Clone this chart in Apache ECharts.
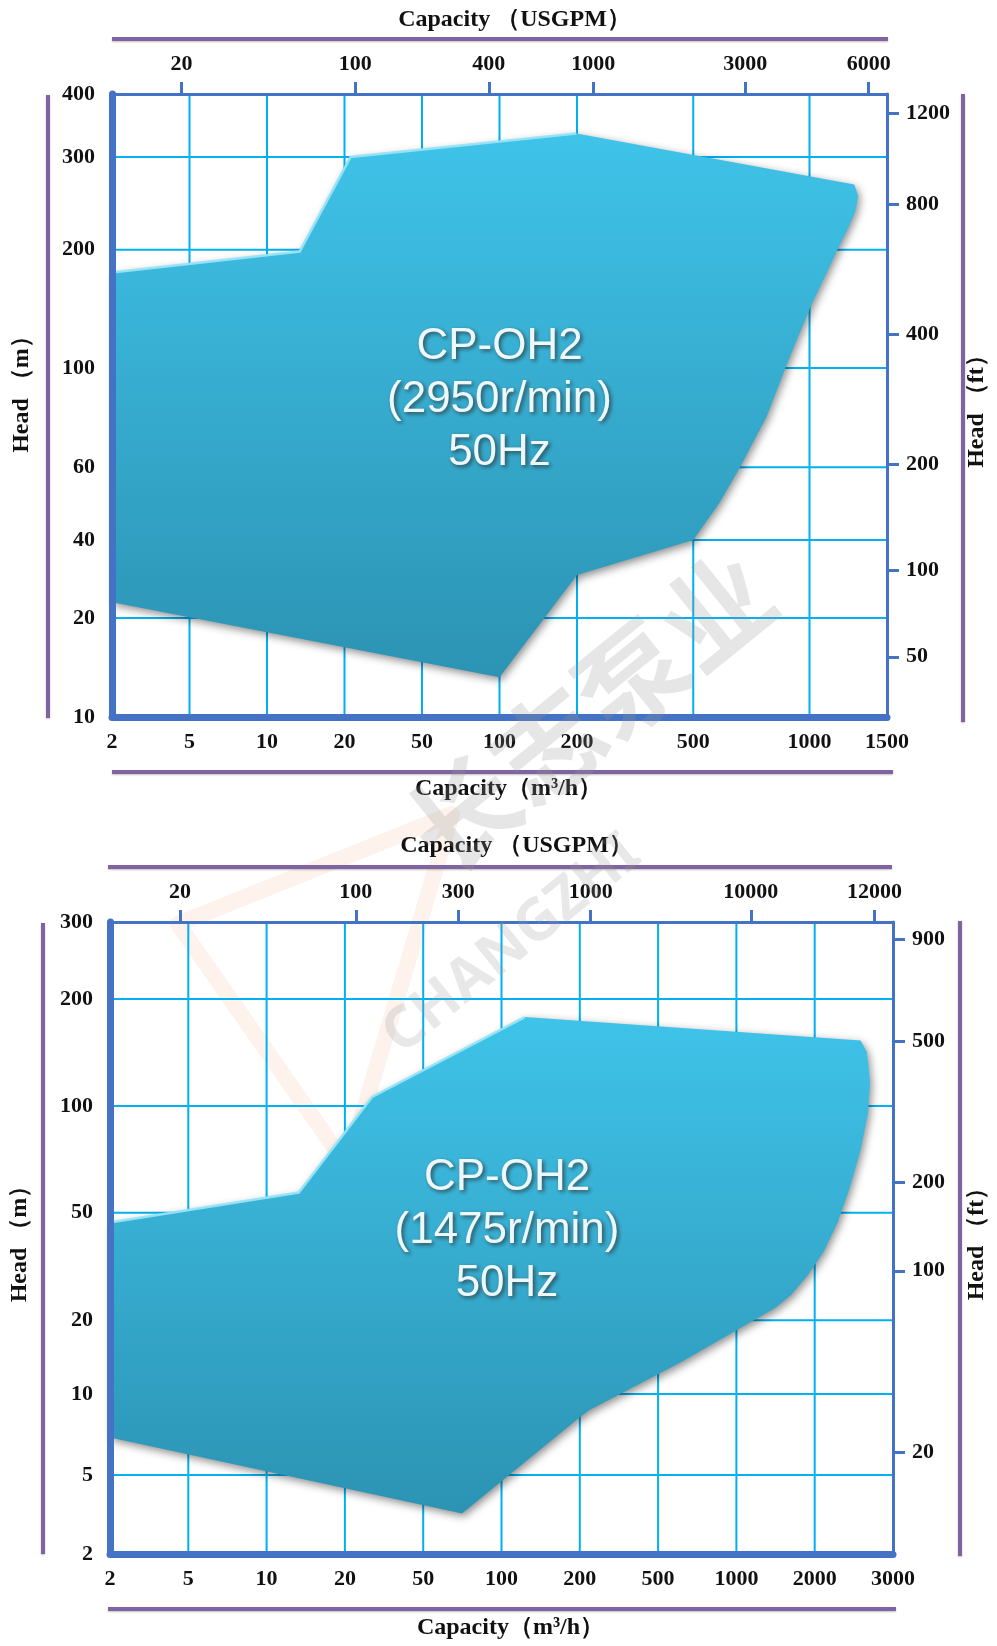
<!DOCTYPE html>
<html>
<head>
<meta charset="utf-8">
<script src="https://cdn.jsdelivr.net/npm/echarts@6/dist/echarts.min.js"></script>
<style>
html,body{margin:0;padding:0;background:#ffffff;}
#c{width:997px;height:1646px;}
</style>
</head>
<body>
<div id="c"></div>
<script>
// ---------------- DATA ----------------
// Chart A : CP-OH2 2950 r/min
const qTicksA = [2, 5, 10, 20, 50, 100, 200, 500, 1000, 1500];          // m3/h
const hTicksA = [10, 20, 40, 60, 100, 200, 300, 400];                    // m
const gpmTicksA = [20, 100, 400, 1000, 3000, 6000];                      // USGPM
const gpmLabelsA = ['20', '100', '400', '1000', '3000', '6000'];
const ftTicksA = [50, 100, 200, 400, 800, 1200];                         // ft
const shapeQA = [2, 2, 13.4, 21.5, 199, 1264, 1290, 1270, 1218, 1157, 1087, 1010, 937, 873, 775, 661, 583, 500, 200, 100];
const shapeHA = [23, 175, 198, 300, 334, 266, 253, 236, 218, 200, 172, 145, 121, 102, 78, 60, 49, 40, 29.3, 13.2];
const textA = 'CP-OH2\n(2950r/min)\n50Hz';
const textAnchorA = [100, 85];

// Chart B : CP-OH2 1475 r/min
const qTicksB = [2, 5, 10, 20, 50, 100, 200, 500, 1000, 2000, 3000];
const hTicksB = [2, 5, 10, 20, 50, 100, 200, 300];
// the picture prints "10000" where 5000 USGPM sits
const gpmTicksB = [20, 100, 300, 1000, 5000, 12000];
const gpmLabelsB = ['20', '100', '300', '1000', '10000', '12000'];
const ftTicksB = [20, 100, 200, 500, 900];
const shapeQB = [2, 2, 13.3, 27.5, 123, 2537, 2621, 2664, 2636, 2537, 2398, 2252, 2096, 1884, 1622, 1409, 614, 223, 200, 70.5];
const shapeHB = [6.9, 46, 57, 106, 178, 153, 142, 117, 95.6, 75.2, 58.8, 46, 35.9, 29.4, 24.8, 22.2, 13.5, 8.7, 8.2, 3.2];
const textB = 'CP-OH2\n(1475r/min)\n50Hz';
const textAnchorB = [105, 43];

const M3H_TO_GPM = 4.4029;
const M_TO_FT = 3.2808;

// ---------------- AXIS SCALE DEFINITIONS ----------------
// The printed axes are piecewise logarithmic between their ticks.
const qFracA = [0, 1, 2, 3, 4, 5, 6, 7.5, 9, 10].map(v => v / 10);
const hFracA = [0, 0.159, 0.284, 0.401, 0.560, 0.750, 0.899, 1];
const qFracB = qTicksB.map((_, i) => i / 10);
const hFracB = [0, 0.125, 0.253, 0.370, 0.540, 0.709, 0.878, 1];

function pieceLog(knots, fracs) {
  return function (v) {
    let i = 0;
    while (i < knots.length - 2 && v > knots[i + 1]) i++;
    const t = Math.log(v / knots[i]) / Math.log(knots[i + 1] / knots[i]);
    return fracs[i] + t * (fracs[i + 1] - fracs[i]);
  };
}
const xsA = pieceLog(qTicksA, qFracA), ysA = pieceLog(hTicksA, hFracA);
const xsB = pieceLog(qTicksB, qFracB), ysB = pieceLog(hTicksB, hFracB);

// ---------------- STYLE ----------------
const AXIS_BLUE = '#4472C4';
const GRID_BLUE = '#00B0F0';
const PURPLE = '#8064A2';
const SERIF = '"Liberation Serif","Times New Roman",serif';
const labelFont = { color: '#111', fontFamily: SERIF, fontWeight: 'bold', fontSize: 22 };
function nameFont(padLeft) {
  return { color: '#111', fontFamily: SERIF, fontWeight: 'bold', fontSize: 24, padding: [0, 0, 0, padLeft || 0] };
}

function labeled(positions, labels) {
  const m = new Map();
  positions.forEach((p, i) => m.set(p.toFixed(5), labels[i]));
  return v => { const s = m.get(Number(v).toFixed(5)); return s === undefined ? '' : s; };
}

function makeAxes(g, xs, ys, qTicks, hTicks, gpmTicks, gpmLabels, ftTicks, gaps) {
  const qPos = qTicks.map(xs);
  const hPos = hTicks.map(ys);
  const gPos = gpmTicks.map(v => xs(v / M3H_TO_GPM));
  const fPos = ftTicks.map(v => ys(v / M_TO_FT));
  const xAxes = [
    {
      gridIndex: g, type: 'value', min: 0, max: 1, position: 'bottom', z: 10,
      axisLine: { show: true, onZero: false, lineStyle: { color: AXIS_BLUE, width: 7 } },
      axisTick: { show: false }, splitLine: { show: false },
      axisLabel: Object.assign({ customValues: qPos, margin: 14, formatter: labeled(qPos, qTicks.map(String)) }, labelFont),
      name: 'Capacity（m³/h）', nameLocation: 'middle', nameGap: gaps.bottom, nameTextStyle: nameFont(gaps.padB)
    },
    {
      gridIndex: g, type: 'value', min: 0, max: 1, position: 'top', z: 10,
      axisLine: { show: true, onZero: false, lineStyle: { color: AXIS_BLUE, width: 3 } },
      axisTick: { show: true, customValues: gPos, length: 12, lineStyle: { color: AXIS_BLUE, width: 3 } },
      splitLine: { show: false },
      axisLabel: Object.assign({ customValues: gPos, margin: 19, formatter: labeled(gPos, gpmLabels) }, labelFont),
      name: 'Capacity （USGPM）', nameLocation: 'middle', nameGap: gaps.top, nameTextStyle: nameFont(gaps.padT)
    }
  ];
  const yAxes = [
    {
      gridIndex: g, type: 'value', min: 0, max: 1, position: 'left', z: 10,
      axisLine: { show: true, onZero: false, lineStyle: { color: AXIS_BLUE, width: 7 } },
      axisTick: { show: false }, splitLine: { show: false },
      axisLabel: Object.assign({ customValues: hPos, margin: 17, formatter: labeled(hPos, hTicks.map(String)) }, labelFont),
      name: 'Head （m）', nameLocation: 'middle', nameGap: gaps.left, nameRotate: 90, nameTextStyle: nameFont(gaps.padL)
    },
    {
      gridIndex: g, type: 'value', min: 0, max: 1, position: 'right', z: 10,
      axisLine: { show: true, onZero: false, lineStyle: { color: AXIS_BLUE, width: 3 } },
      axisTick: { show: true, customValues: fPos, length: 12, lineStyle: { color: AXIS_BLUE, width: 3 } },
      splitLine: { show: false },
      axisLabel: Object.assign({ customValues: fPos, margin: 19, formatter: labeled(fPos, ftTicks.map(String)) }, labelFont),
      name: 'Head （ft）', nameLocation: 'middle', nameGap: gaps.right, nameRotate: 90, nameTextStyle: nameFont(0)
    }
  ];
  return { xAxes, yAxes, qPos, hPos };
}

function gridLineSeries(xi, yi, positions, vertical) {
  return {
    type: 'custom', xAxisIndex: xi, yAxisIndex: yi, z: 1, silent: true,
    data: positions.map(p => vertical ? [p, 0] : [0, p]),
    renderItem: function (params, api) {
      const p = vertical ? api.value(0) : api.value(1);
      const a = vertical ? api.coord([p, 0]) : api.coord([0, p]);
      const b = vertical ? api.coord([p, 1]) : api.coord([1, p]);
      return { type: 'line', shape: { x1: a[0], y1: a[1], x2: b[0], y2: b[1] },
               style: { stroke: GRID_BLUE, lineWidth: 2 } };
    }
  };
}

function shapeSeries(xi, yi, qs, hs, xs, ys, text, anchor, topCount) {
  return {
    type: 'custom', xAxisIndex: xi, yAxisIndex: yi, z: 3, silent: true,
    data: [[xs(anchor[0]), ys(anchor[1])]],
    renderItem: function (params, api) {
      const pts = qs.map((q, i) => api.coord([xs(q), ys(hs[i])]));
      const c = api.coord([api.value(0), api.value(1)]);
      return {
        type: 'group',
        children: [
          { type: 'polygon', shape: { points: pts },
            style: {
              fill: new echarts.graphic.LinearGradient(0, 0, 0, 1, [
                { offset: 0, color: '#3fc3e9' }, { offset: 1, color: '#2c93b3' }]),
              shadowBlur: 8, shadowColor: 'rgba(0,0,0,0.45)', shadowOffsetX: 2, shadowOffsetY: 3
            } },
          { type: 'polyline', shape: { points: pts.slice(1, topCount + 1) },
            style: { stroke: 'rgba(150,228,246,0.95)', lineWidth: 2.5, fill: null } },
          { type: 'text', x: c[0], y: c[1],
            style: {
              text: text, fill: '#eef8fb', font: '44px "Liberation Sans", Arial, sans-serif',
              align: 'center', verticalAlign: 'middle', lineHeight: 53,
              textShadowColor: 'rgba(40,40,40,0.75)', textShadowBlur: 4,
              textShadowOffsetX: 2, textShadowOffsetY: 2
            } }
        ]
      };
    }
  };
}

const A = makeAxes(0, xsA, ysA, qTicksA, hTicksA, gpmTicksA, gpmLabelsA, ftTicksA,
  { bottom: 60, top: 62, left: 78, right: 78, padB: 18, padT: 30, padL: 34 });
const B = makeAxes(1, xsB, ysB, qTicksB, hTicksB, gpmTicksB, gpmLabelsB, ftTicksB,
  { bottom: 62, top: 64, left: 78, right: 72, padB: 18, padT: 30, padL: 0 });

function pline(x1, y1, x2, y2) {
  return { type: 'line', shape: { x1, y1, x2, y2 }, silent: true, z: 5,
    style: { stroke: PURPLE, lineWidth: 4, shadowBlur: 2, shadowColor: 'rgba(0,0,0,0.25)', shadowOffsetY: 1 } };
}

const option = {
  animation: false,
  backgroundColor: '#ffffff',
  grid: [
    { left: 112, top: 94, width: 781, height: 623 },
    { left: 107, top: 922, width: 788, height: 632 }
  ],
  xAxis: [A.xAxes[0], A.xAxes[1], B.xAxes[0], B.xAxes[1]],
  yAxis: [A.yAxes[0], A.yAxes[1], B.yAxes[0], B.yAxes[1]],
  series: [
    gridLineSeries(0, 0, A.qPos.slice(1, -1), true),
    gridLineSeries(0, 0, A.hPos.slice(1, -1), false),
    shapeSeries(0, 0, shapeQA, shapeHA, xsA, ysA, textA, textAnchorA, 4),
    gridLineSeries(2, 2, B.qPos.slice(1, -1), true),
    gridLineSeries(2, 2, B.hPos.slice(1, -1), false),
    shapeSeries(2, 2, shapeQB, shapeHB, xsB, ysB, textB, textAnchorB, 4)
  ],
  graphic: [
    pline(112, 39, 888, 39), pline(112, 772, 893, 772), pline(48, 95, 48, 718), pline(963, 94, 963, 722),
    pline(108, 867, 892, 867), pline(108, 1609, 896, 1609), pline(43, 923, 43, 1554), pline(960, 921, 960, 1556),
    // faint watermark
    { type: 'polygon', silent: true, z: 0,
      shape: { points: [[178, 924], [452, 814], [347, 1166]] },
      style: { fill: 'none', stroke: 'rgba(246,196,170,0.22)', lineWidth: 16, lineJoin: 'round' } },
    { type: 'text', silent: true, z: 41, x: 590, y: 712, rotation: 0.68,
      style: { text: '长志泵业', font: 'bold 108px "Noto Sans CJK SC", sans-serif', fill: 'rgba(150,150,150,0.24)',
               align: 'center', verticalAlign: 'middle' } },
    { type: 'text', silent: true, z: 41, x: 512, y: 945, rotation: 0.68,
      style: { text: 'CHANGZHI', font: 'bold 58px "Noto Sans", sans-serif', fill: 'rgba(150,150,150,0.22)',
               align: 'center', verticalAlign: 'middle' } }
  ]
};

const chart = echarts.init(document.getElementById('c'));
chart.setOption(option);
</script>
</body>
</html>
